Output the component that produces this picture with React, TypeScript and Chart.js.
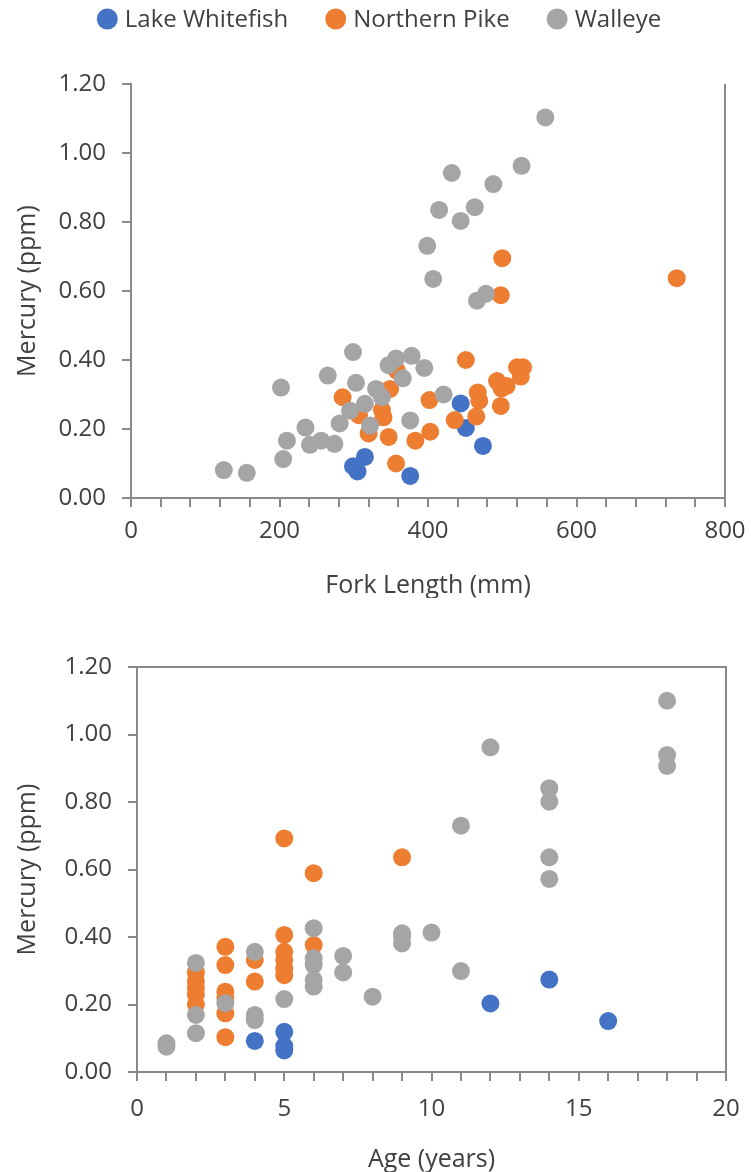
import React, { useEffect, useRef } from 'react';
import { Chart, registerables } from 'chart.js';

Chart.register(...registerables);

const FONT = '"Open Sans", "Noto Sans", sans-serif';
const TEXT = '#404040';
const AXIS = '#898989';

const seriesNames = ['Lake Whitefish', 'Northern Pike', 'Walleye'];
const seriesColors = ['#4472C4', '#ED7D31', '#A5A5A5'];

// Lake Whitefish (same fish in both charts)
const whitefishLength = [299, 305, 315, 376, 444, 451, 474];
const whitefishAge = [4, 5, 5, 5, 14, 12, 16];
const whitefishMercury = [0.092, 0.077, 0.119, 0.064, 0.274, 0.203, 0.151];

// Northern Pike – fork length chart
const pikeLength = [285, 307, 320, 338, 340, 349, 358, 347, 357, 383, 402, 403, 451, 436, 465, 467, 469, 498, 493, 506, 499, 520, 528, 525, 498, 500, 735];
const pikeMercuryByLength = [0.292, 0.24, 0.187, 0.255, 0.234, 0.316, 0.369, 0.177, 0.1, 0.166, 0.284, 0.192, 0.4, 0.226, 0.236, 0.306, 0.282, 0.267, 0.339, 0.325, 0.318, 0.379, 0.379, 0.352, 0.588, 0.695, 0.637];

// Northern Pike – age chart
const pikeAge = [2, 2, 2, 2, 2, 3, 3, 3, 3, 3, 3, 4, 4, 5, 5, 5, 5, 5, 5, 6, 6, 9];
const pikeMercuryByAge = [0.295, 0.27, 0.25, 0.23, 0.2, 0.371, 0.317, 0.238, 0.22, 0.174, 0.103, 0.332, 0.268, 0.692, 0.406, 0.356, 0.332, 0.307, 0.287, 0.589, 0.376, 0.636];

// Walleye – fork length chart
const walleyeLength = [125, 156, 202, 205, 210, 235, 241, 256, 274, 265, 281, 295, 299, 303, 315, 322, 330, 338, 347, 357, 366, 378, 376, 395, 421, 407, 466, 478, 399, 415, 444, 463, 432, 488, 526, 558];
const walleyeMercuryByLength = [0.081, 0.073, 0.32, 0.113, 0.166, 0.204, 0.154, 0.166, 0.157, 0.355, 0.216, 0.253, 0.423, 0.334, 0.273, 0.21, 0.316, 0.292, 0.385, 0.404, 0.347, 0.412, 0.225, 0.377, 0.3, 0.635, 0.572, 0.592, 0.731, 0.835, 0.803, 0.843, 0.942, 0.91, 0.963, 1.103];

// Walleye – age chart
const walleyeAge = [1, 1, 2, 2, 2, 3, 4, 4, 4, 5, 6, 6, 6, 6, 6, 7, 7, 8, 9, 9, 9, 10, 11, 11, 12, 14, 14, 14, 14, 18, 18, 18];
const walleyeMercuryByAge = [0.085, 0.075, 0.323, 0.169, 0.115, 0.204, 0.356, 0.169, 0.154, 0.216, 0.426, 0.337, 0.317, 0.273, 0.253, 0.344, 0.295, 0.223, 0.411, 0.4, 0.381, 0.413, 0.73, 0.299, 0.962, 0.841, 0.801, 0.636, 0.572, 1.1, 0.939, 0.907];

// Axis tick labels
const lengthTickLabels = [0, 200, 400, 600, 800];
const ageTickLabels = [0, 5, 10, 15, 20];
const mercuryTickLabels = [0, 0.2, 0.4, 0.6, 0.8, 1.0, 1.2];

const zip = (xs: number[], ys: number[]) => xs.map((x, i) => ({ x, y: ys[i] }));

function makeDatasets(
  wf: { x: number; y: number }[],
  pk: { x: number; y: number }[],
  wl: { x: number; y: number }[]
) {
  const sets = [wf, pk, wl];
  return sets.map((data, i) => ({
    label: seriesNames[i],
    data,
    backgroundColor: seriesColors[i],
    borderColor: seriesColors[i],
    pointRadius: 9,
    pointHoverRadius: 9,
    pointBorderWidth: 0,
    showLine: false,
    order: 2 - i,
  }));
}

function legendPlugin() {
  return {
    id: 'customLegend',
    afterDraw(chart: any) {
      const ctx = chart.ctx;
      ctx.save();
      ctx.font = `24px ${FONT}`;
      ctx.textBaseline = 'middle';
      ctx.textAlign = 'left';
      const r = 10.5;
      const gapText = 7;
      const gapItem = 37;
      const widths = seriesNames.map((n) => ctx.measureText(n).width);
      const total =
        widths.reduce((a, w) => a + 2 * r + gapText + w, 0) + gapItem * (seriesNames.length - 1);
      let x = 379 - total / 2;
      const y = 19;
      seriesNames.forEach((name, i) => {
        ctx.fillStyle = seriesColors[i];
        ctx.beginPath();
        ctx.arc(x + r, y, r, 0, Math.PI * 2);
        ctx.fill();
        x += 2 * r + gapText;
        ctx.fillStyle = TEXT;
        ctx.fillText(name, x, y + 1);
        x += widths[i] + gapItem;
      });
      ctx.restore();
    },
  };
}

function framePlugin(drawTop: boolean) {
  return {
    id: 'frame',
    afterDraw(chart: any) {
      const { left, right, top, bottom } = chart.chartArea;
      const ctx = chart.ctx;
      ctx.save();
      ctx.strokeStyle = AXIS;
      ctx.lineWidth = 2;
      ctx.beginPath();
      if (drawTop) {
        ctx.moveTo(left, top);
        ctx.lineTo(right + 1, top);
      }
      ctx.moveTo(right, top);
      ctx.lineTo(right, bottom);
      ctx.stroke();
      ctx.restore();
    },
  };
}

function buildConfig(p: any) {
  return {
    type: 'scatter',
    data: { datasets: p.datasets },
    options: {
      animation: false,
      responsive: false,
      maintainAspectRatio: false,
      devicePixelRatio: 1,
      layout: { padding: p.padding },
      plugins: { legend: { display: false }, tooltip: { enabled: false } },
      scales: {
        x: {
          type: 'linear',
          min: 0,
          max: p.xMax,
          ticks: {
            stepSize: p.xStep,
            autoSkip: false,
            maxRotation: 0,
            minRotation: 0,
            padding: p.xTickPad,
            color: TEXT,
            font: { family: FONT, size: 24 },
            callback: (v: number) => (p.xLabels.includes(v) ? String(v) : ''),
          },
          grid: {
            display: true,
            drawOnChartArea: false,
            drawTicks: true,
            tickLength: 9,
            color: AXIS,
            lineWidth: 2,
          },
          border: { display: true, color: AXIS, width: 2 },
          title: {
            display: true,
            text: p.xTitle,
            color: TEXT,
            font: { family: FONT, size: 25, lineHeight: 1 },
            padding: { top: 0, bottom: 0 },
          },
          afterFit: (s: any) => {
            s.height = p.xHeight;
            s.paddingLeft = 0;
            s.paddingRight = 0;
          },
        },
        y: {
          type: 'linear',
          min: 0,
          max: 1.2,
          ticks: {
            stepSize: 0.2,
            padding: 16,
            color: TEXT,
            font: { family: FONT, size: 24 },
            callback: (v: number) =>
              mercuryTickLabels.some((t) => Math.abs(t - v) < 1e-6) ? v.toFixed(2) : '',
          },
          grid: {
            display: true,
            drawOnChartArea: false,
            drawTicks: true,
            tickLength: 9,
            color: AXIS,
            lineWidth: 2,
          },
          border: { display: true, color: AXIS, width: 2 },
          title: {
            display: true,
            text: 'Mercury (ppm)',
            color: TEXT,
            font: { family: FONT, size: 25, lineHeight: 1 },
            padding: { top: 15, bottom: 0 },
          },
          afterFit: (s: any) => {
            s.width = p.yWidth;
            s.paddingTop = 0;
            s.paddingBottom = 0;
          },
        },
      },
    },
    plugins: p.plugins,
  };
}

export default function App() {
  const topRef = useRef<HTMLCanvasElement | null>(null);
  const bottomRef = useRef<HTMLCanvasElement | null>(null);

  useEffect(() => {
    const c1 = new Chart(
      topRef.current as HTMLCanvasElement,
      buildConfig({
        datasets: makeDatasets(
          zip(whitefishLength, whitefishMercury),
          zip(pikeLength, pikeMercuryByLength),
          zip(walleyeLength, walleyeMercuryByLength)
        ),
        xMax: 800,
        xStep: 40,
        xLabels: lengthTickLabels,
        xTitle: 'Fork Length (mm)',
        xTickPad: 10,
        padding: { top: 84, right: 26, left: 0, bottom: 0 },
        yWidth: 131,
        xHeight: 100,
        plugins: [legendPlugin(), framePlugin(false)],
      }) as any
    );
    const c2 = new Chart(
      bottomRef.current as HTMLCanvasElement,
      buildConfig({
        datasets: makeDatasets(
          zip(whitefishAge, whitefishMercury),
          zip(pikeAge, pikeMercuryByAge),
          zip(walleyeAge, walleyeMercuryByAge)
        ),
        xMax: 20,
        xStep: 1,
        xLabels: ageTickLabels,
        xTitle: 'Age (years)',
        xTickPad: 14,
        padding: { top: 69, right: 25, left: 0, bottom: 0 },
        yWidth: 137,
        xHeight: 100,
        plugins: [framePlugin(true)],
      }) as any
    );
    return () => {
      c1.destroy();
      c2.destroy();
    };
  }, []);

  return (
    <div
      style={{
        position: 'absolute',
        left: 0,
        top: 0,
        width: 751,
        height: 1172,
        overflow: 'hidden',
        background: '#ffffff',
      }}
    >
      <canvas
        ref={topRef}
        width={751}
        height={598}
        style={{ position: 'absolute', left: 0, top: 0, width: 751, height: 598 }}
      />
      <canvas
        ref={bottomRef}
        width={751}
        height={574}
        style={{ position: 'absolute', left: 0, top: 598, width: 751, height: 574 }}
      />
    </div>
  );
}
